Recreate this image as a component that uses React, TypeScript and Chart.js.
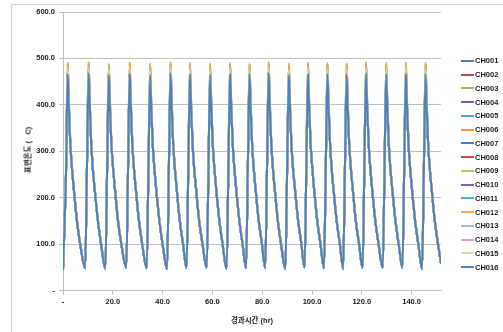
import React, { useEffect, useRef } from "react";
import { Chart, registerables } from "chart.js";

Chart.register(...registerables);

// elapsed time (hr)
const timeHr = [0, 1.2,
  1.9, 2.3, 2.9, 3.5, 4.4, 5.6, 6.9, 8.9, 9.6,
  10.3, 10.7, 11.3, 11.9, 12.8, 14.0, 15.3, 17.0, 17.7,
  18.4, 18.8, 19.4, 20.0, 20.9, 22.1, 23.4, 25.4, 26.1,
  26.8, 27.2, 27.8, 28.4, 29.3, 30.5, 31.8, 33.6, 34.3,
  35.0, 35.4, 36.0, 36.6, 37.5, 38.7, 40.0, 41.8, 42.5,
  43.2, 43.6, 44.2, 44.8, 45.7, 46.9, 48.2, 49.6, 50.3,
  51.0, 51.4, 52.0, 52.6, 53.5, 54.7, 56.0, 57.7, 58.4,
  59.1, 59.5, 60.1, 60.7, 61.6, 62.8, 64.1, 65.7, 66.4,
  67.1, 67.5, 68.1, 68.7, 69.6, 70.8, 72.1, 73.5, 74.2,
  74.9, 75.3, 75.9, 76.5, 77.4, 78.6, 79.9, 81.2, 81.9,
  82.6, 83.0, 83.6, 84.2, 85.1, 86.3, 87.6, 89.3, 90.0,
  90.7, 91.1, 91.7, 92.3, 93.2, 94.4, 95.7, 97.0, 97.7,
  98.4, 98.8, 99.4, 100.0, 100.9, 102.1, 103.4, 104.8, 105.5,
  106.2, 106.6, 107.2, 107.8, 108.7, 109.9, 111.2, 112.5, 113.2,
  113.9, 114.3, 114.9, 115.5, 116.4, 117.6, 118.9, 120.3, 121.0,
  121.7, 122.1, 122.7, 123.3, 124.2, 125.4, 126.7, 128.4, 129.1,
  129.8, 130.2, 130.8, 131.4, 132.3, 133.5, 134.8, 136.3, 137.0,
  137.7, 138.1, 138.7, 139.3, 140.2, 141.4, 142.7, 144.2, 144.9,
  145.6, 146.0, 146.6, 147.2, 148.1, 149.3, 150.6, 151.8];

// surface temperature, channels with lower peaks (blue etc.)
const tempBase = [44, 250,
  466, 400, 320, 270, 215, 150, 100, 48, 255,
  468, 402, 321, 268, 214, 151, 99, 47, 256,
  465, 399, 319, 271, 216, 149, 101, 49, 254,
  467, 401, 320, 269, 215, 150, 100, 48, 255,
  464, 398, 318, 270, 214, 151, 99, 47, 257,
  468, 402, 322, 271, 216, 150, 100, 48, 254,
  466, 400, 320, 268, 215, 149, 101, 49, 255,
  465, 399, 319, 270, 214, 150, 99, 47, 256,
  467, 401, 321, 271, 216, 151, 100, 48, 255,
  466, 400, 320, 269, 215, 150, 100, 48, 254,
  468, 402, 321, 270, 214, 149, 99, 47, 256,
  465, 399, 319, 268, 216, 151, 101, 49, 255,
  467, 401, 320, 271, 215, 150, 100, 48, 254,
  466, 400, 322, 269, 214, 150, 99, 47, 256,
  465, 399, 320, 270, 216, 149, 100, 48, 255,
  468, 402, 321, 271, 215, 151, 101, 49, 254,
  466, 400, 319, 268, 214, 150, 100, 48, 255,
  467, 401, 320, 270, 215, 150, 99, 47, 256,
  466, 400, 320, 269, 215, 150, 100, 58];

// light channels (CH013-CH015)
const tempLight = [45, 253,
  476, 408, 322, 271, 216, 151, 101, 48, 258,
  478, 410, 323, 269, 215, 152, 100, 48, 259,
  475, 407, 321, 272, 217, 150, 102, 49, 257,
  477, 409, 322, 270, 216, 151, 101, 48, 258,
  474, 406, 320, 271, 215, 152, 100, 48, 260,
  478, 410, 324, 272, 217, 151, 101, 48, 257,
  476, 408, 322, 269, 216, 150, 102, 49, 258,
  475, 407, 321, 271, 215, 151, 100, 48, 259,
  477, 409, 323, 272, 217, 152, 101, 48, 258,
  476, 408, 322, 270, 216, 151, 101, 48, 257,
  478, 410, 323, 271, 215, 150, 100, 48, 259,
  475, 407, 321, 269, 217, 152, 102, 49, 258,
  477, 409, 322, 272, 216, 151, 101, 48, 257,
  476, 408, 324, 270, 215, 151, 100, 48, 259,
  475, 407, 322, 271, 217, 150, 101, 48, 258,
  478, 410, 323, 272, 216, 152, 102, 49, 257,
  476, 408, 321, 269, 215, 151, 101, 48, 258,
  477, 409, 322, 271, 216, 151, 100, 48, 259,
  476, 408, 322, 270, 216, 151, 101, 59];

// orange channels (CH006, CH012)
const tempOrange = [46, 256,
  487, 414, 324, 272, 217, 152, 101, 48, 260,
  489, 416, 325, 270, 216, 153, 101, 48, 261,
  485, 413, 323, 273, 218, 151, 103, 49, 259,
  488, 415, 324, 271, 217, 152, 102, 48, 260,
  486, 412, 322, 272, 216, 153, 101, 48, 262,
  489, 416, 326, 273, 218, 152, 102, 48, 259,
  487, 414, 324, 270, 217, 151, 103, 49, 260,
  486, 413, 323, 272, 216, 152, 101, 48, 261,
  487, 415, 325, 273, 218, 153, 102, 48, 260,
  486, 414, 324, 271, 217, 152, 102, 48, 259,
  489, 416, 325, 272, 216, 151, 101, 48, 261,
  486, 413, 323, 270, 218, 153, 103, 49, 260,
  488, 415, 324, 273, 217, 152, 102, 48, 259,
  487, 414, 326, 271, 216, 152, 101, 48, 261,
  486, 413, 324, 272, 218, 151, 102, 48, 260,
  489, 416, 325, 273, 217, 153, 103, 49, 259,
  487, 414, 323, 270, 216, 152, 102, 48, 260,
  488, 415, 324, 272, 217, 152, 101, 48, 261,
  487, 414, 324, 271, 217, 152, 102, 60];

// green channels (CH003, CH009)
const tempGreen = [46, 258,
  490, 416, 325, 273, 217, 152, 102, 49, 261,
  492, 418, 326, 271, 217, 153, 102, 49, 262,
  488, 415, 324, 274, 219, 152, 104, 50, 260,
  491, 417, 325, 272, 218, 153, 103, 49, 261,
  489, 414, 323, 273, 217, 154, 102, 49, 263,
  492, 418, 327, 274, 219, 153, 103, 49, 260,
  490, 416, 325, 271, 218, 152, 104, 50, 261,
  489, 415, 324, 273, 217, 153, 102, 49, 262,
  490, 417, 326, 274, 219, 154, 103, 49, 261,
  489, 416, 325, 272, 218, 153, 103, 49, 260,
  492, 418, 326, 273, 217, 152, 102, 49, 262,
  489, 415, 324, 271, 219, 154, 104, 50, 261,
  491, 417, 325, 274, 218, 153, 103, 49, 260,
  490, 416, 327, 272, 217, 153, 102, 49, 262,
  489, 415, 325, 273, 219, 152, 103, 49, 261,
  492, 418, 326, 274, 218, 154, 104, 50, 260,
  490, 416, 324, 271, 217, 153, 103, 49, 261,
  491, 417, 325, 273, 218, 153, 102, 49, 262,
  490, 416, 325, 272, 218, 153, 103, 61];

const channelNames = ["CH001", "CH002", "CH003", "CH004", "CH005", "CH006", "CH007", "CH008",
  "CH009", "CH010", "CH011", "CH012", "CH013", "CH014", "CH015", "CH016"];
const channelColors = ["#4A7EBB", "#BE4B48", "#98B954", "#7D60A0", "#46AAC5", "#F69240", "#4D80C2", "#CC4F4C",
  "#A8CB6A", "#7E5FAE", "#3FB7DA", "#F9A24F", "#A4B9DC", "#E0A5A4", "#CFDDB0", "#4F81BD"];
const channelValues = [tempBase, tempBase, tempGreen, tempBase, tempBase, tempOrange, tempBase, tempBase,
  tempGreen, tempBase, tempBase, tempOrange, tempLight, tempLight, tempLight, tempBase];

const yTicks = [0, 100, 200, 300, 400, 500, 600];
const xTicks = [0, 20, 40, 60, 80, 100, 120, 140];
const xTitle = "경과시간 (hr)";
const yTitle = "표면온도 (   C)";

const fmt = (v: number) => (v === 0 ? "-" : v.toFixed(1));
const FONT = "'Liberation Sans', 'Noto Sans CJK KR', sans-serif";

export default function App() {
  const ref = useRef<HTMLCanvasElement | null>(null);
  useEffect(() => {
    if (!ref.current) return;
    const datasets = channelNames.map((name, i) => ({
      label: name,
      data: timeHr.map((t, j) => ({ x: t, y: channelValues[i][j] })),
      borderColor: channelColors[i],
      backgroundColor: channelColors[i],
      borderWidth: 2,
      pointRadius: 0,
      cubicInterpolationMode: "monotone" as const,
      order: channelNames.length - 1 - i,
    }));
    const chart = new Chart(ref.current, {
      type: "line",
      data: { datasets },
      options: {
        animation: false,
        responsive: false,
        layout: { padding: { left: 0, top: 12, right: 62, bottom: 0 } },
        plugins: { legend: { display: false }, tooltip: { enabled: false } },
        scales: {
          x: {
            type: "linear",
            min: 0,
            max: 151.8,
            afterFit: (s: any) => { s.height = 41.5; },
            afterBuildTicks: (s: any) => { s.ticks = xTicks.map((v) => ({ value: v })); },
            ticks: {
              callback: (v: any) => fmt(Number(v)),
              font: { family: FONT, size: 7.5, weight: "bold" },
              color: "#1a1a1a",
              padding: 3,
              maxRotation: 0,
              autoSkip: false,
            },
            grid: { drawOnChartArea: false, tickLength: 4, tickColor: "#BFBFBF" },
            border: { color: "#BFBFBF" },
          },
          y: {
            min: 0,
            max: 600,
            afterFit: (s: any) => { s.width = 63; },
            afterBuildTicks: (s: any) => { s.ticks = yTicks.map((v) => ({ value: v })); },
            ticks: {
              callback: (v: any) => fmt(Number(v)),
              font: { family: FONT, size: 7.5, weight: "bold" },
              color: "#1a1a1a",
              padding: 4,
            },
            grid: { color: "#BFBFBF", tickLength: 4, tickColor: "#BFBFBF" },
            border: { color: "#BFBFBF" },
          },
        },
      },
    });
    return () => chart.destroy();
  }, []);

  return (
    <div style={{ position: "fixed", left: 0, top: 0, width: 503, height: 332, background: "#fff", overflow: "hidden" }}>
      <div style={{ position: "absolute", left: 11, top: 4, width: 600, height: 400, borderLeft: "1px solid #D4D4D4", borderTop: "1px solid #D4D4D4" }} />
      <canvas ref={ref} width={503} height={332} style={{ position: "absolute", left: 0, top: 0 }} />
      <div style={{ position: "absolute", left: 252, top: 319, transform: "translate(-50%, -50%)", font: `bold 7.5px ${FONT}`, color: "#1a1a1a", whiteSpace: "nowrap" }}>{xTitle}</div>
      <div style={{ position: "absolute", left: 27, top: 150, transform: "translate(-50%, -50%) rotate(-90deg)", font: `bold 7.5px ${FONT}`, color: "#1a1a1a", whiteSpace: "pre" }}>{yTitle}</div>
      <div style={{ position: "absolute", left: 461, top: 54, display: "flex", flexDirection: "column" }}>
        {channelNames.map((name, i) => (
          <div key={name} style={{ height: 13.75, display: "flex", alignItems: "center" }}>
            <span style={{ display: "inline-block", width: 13, height: 2, background: channelColors[i] }} />
            <span style={{ marginLeft: 1, font: `bold 7.5px ${FONT}`, color: "#1a1a1a" }}>{name}</span>
          </div>
        ))}
      </div>
    </div>
  );
}
